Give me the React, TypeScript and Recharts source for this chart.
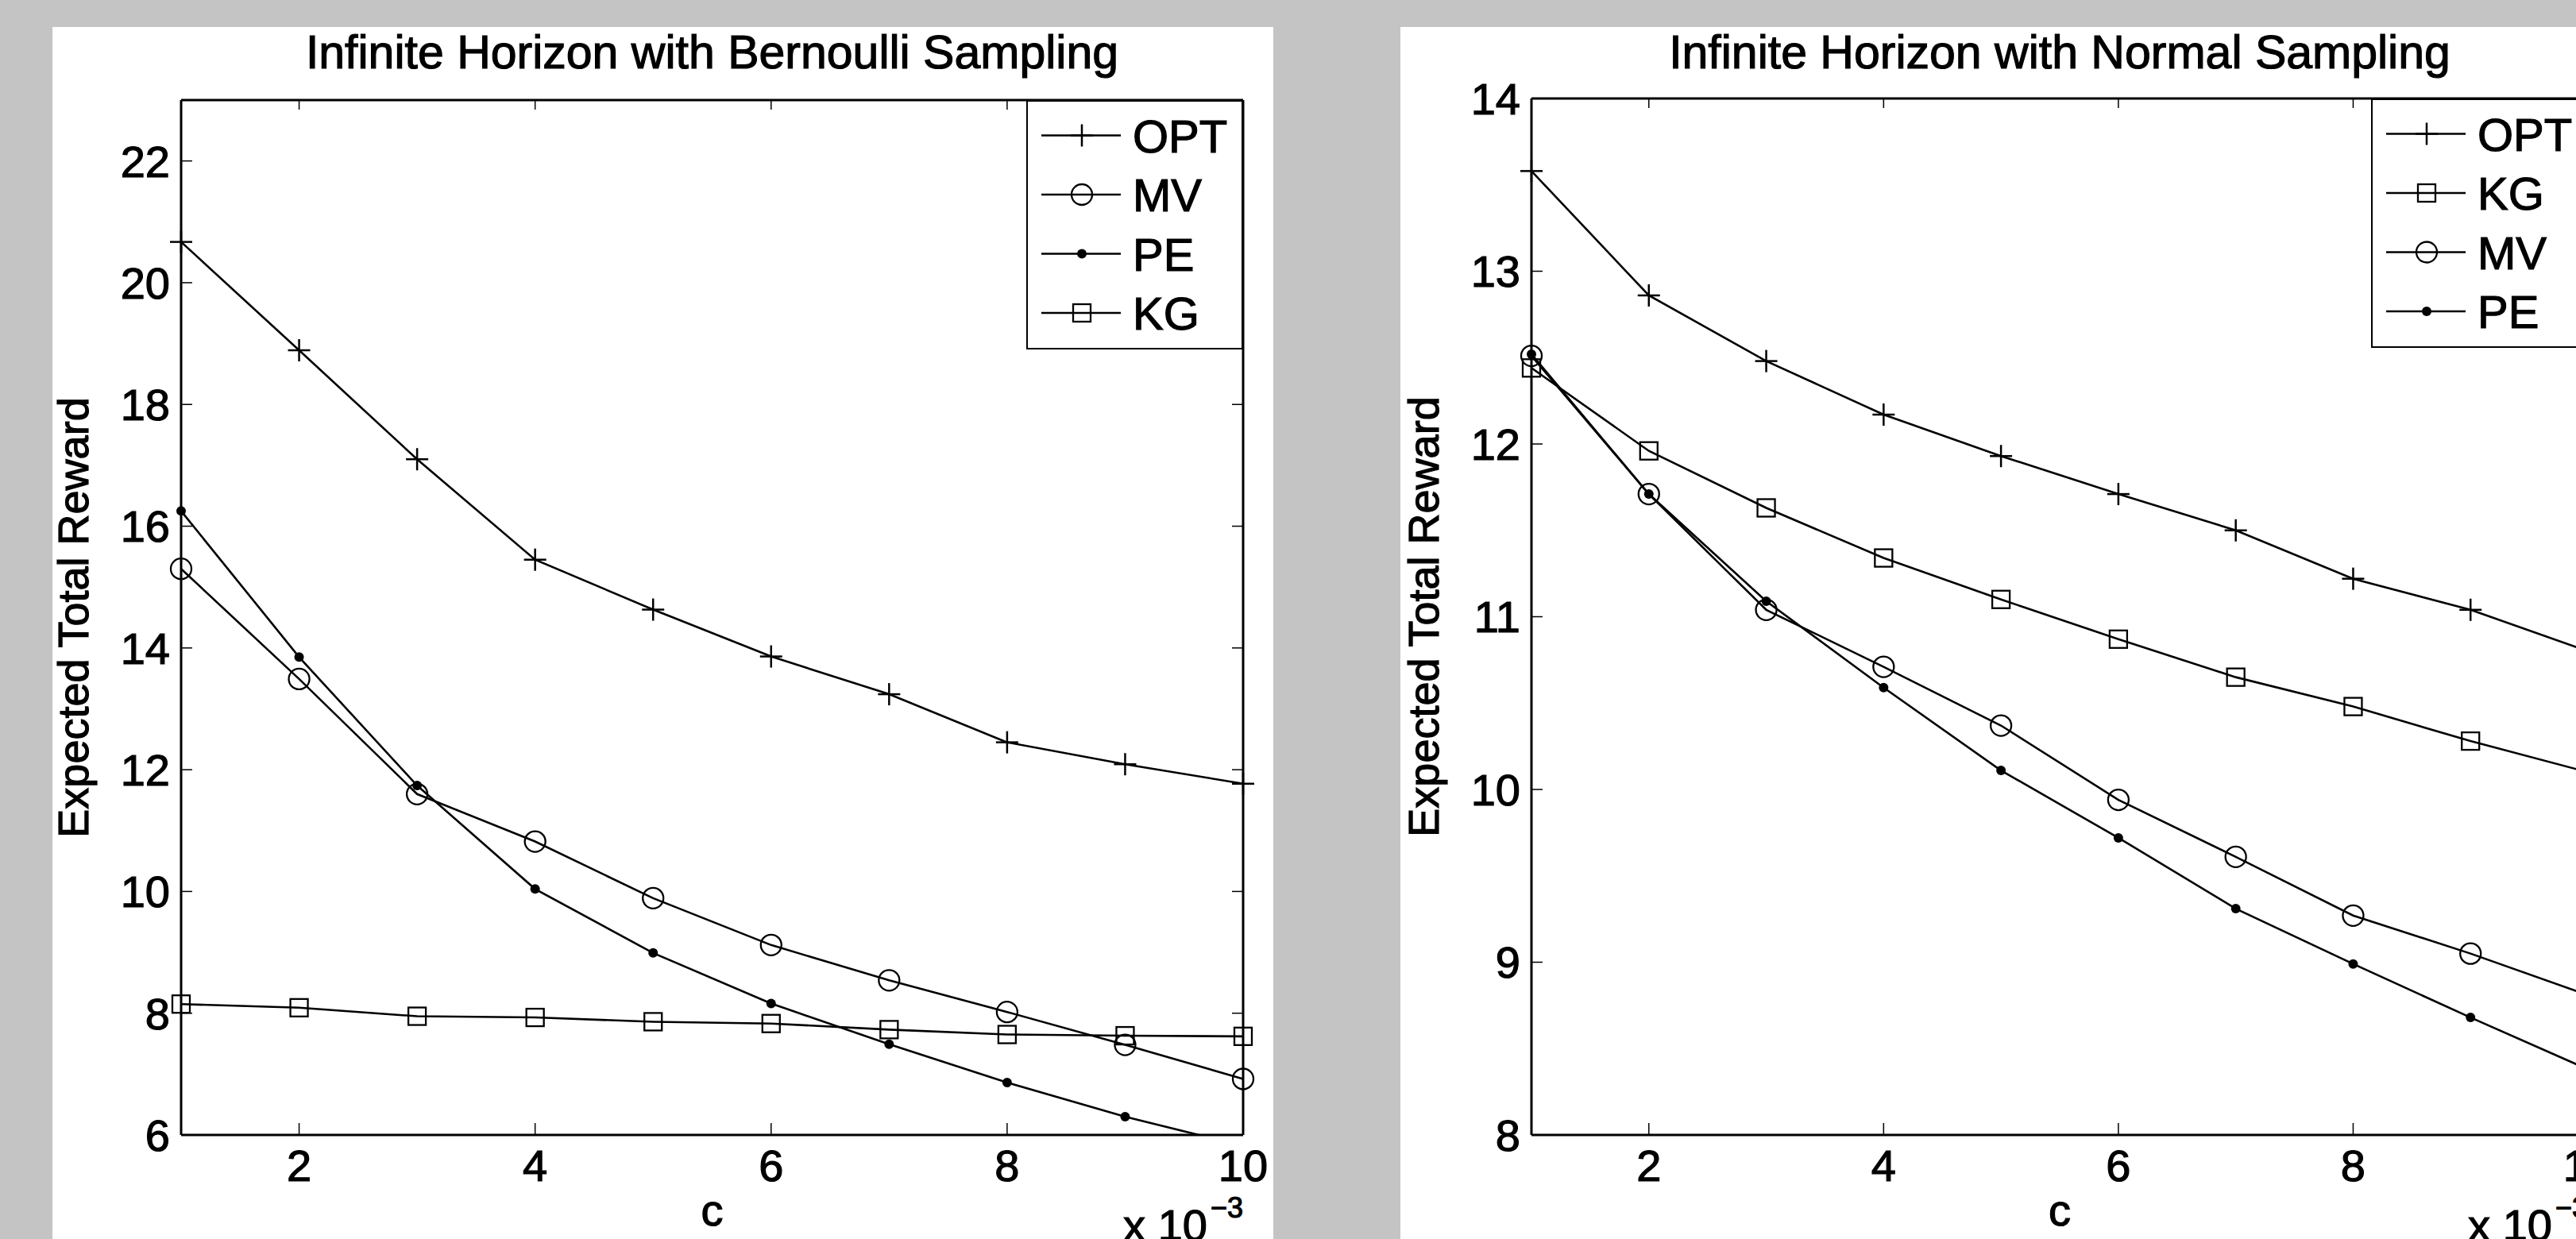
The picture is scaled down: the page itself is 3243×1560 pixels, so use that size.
import React from 'react';
import { LineChart, Line, XAxis, YAxis, Legend, Label } from 'recharts';

// ---------- data ----------
const cValues = [1, 2, 3, 4, 5, 6, 7, 8, 9, 10];
const xTicks = [2, 4, 6, 8, 10];
const xDomain: [number, number] = [1, 10];

// Left panel: Bernoulli sampling
const bernTitle = 'Infinite Horizon with Bernoulli Sampling';
const bernOPT = [20.67, 18.89, 17.1, 15.45, 14.63, 13.86, 13.24, 12.45, 12.09, 11.77];
const bernMV = [15.3, 13.49, 11.6, 10.82, 9.89, 9.12, 8.54, 8.02, 7.48, 6.92];
const bernPE = [16.25, 13.85, 11.74, 10.04, 8.99, 8.16, 7.49, 6.86, 6.3, 5.82];
const bernKG = [8.15, 8.09, 7.95, 7.93, 7.86, 7.83, 7.73, 7.65, 7.63, 7.62];
const bernYTicks = [6, 8, 10, 12, 14, 16, 18, 20, 22];
const bernYDomain: [number, number] = [6, 23];

// Right panel: Normal sampling
const normTitle = 'Infinite Horizon with Normal Sampling';
const normOPT = [13.58, 12.86, 12.48, 12.17, 11.93, 11.71, 11.5, 11.22, 11.04, 10.8];
const normKG = [12.44, 11.96, 11.63, 11.34, 11.1, 10.87, 10.65, 10.48, 10.28, 10.1];
const normMV = [12.51, 11.71, 11.04, 10.71, 10.37, 9.94, 9.61, 9.27, 9.05, 8.81];
const normPE = [12.52, 11.71, 11.09, 10.59, 10.11, 9.72, 9.31, 8.99, 8.68, 8.38];
const normYTicks = [8, 9, 10, 11, 12, 13, 14];
const normYDomain: [number, number] = [8, 14];

const xLabel = 'c';
const yLabel = 'Expected Total Reward';

// ---------- styling ----------
const FONT = '"Liberation Sans", Arial, Helvetica, sans-serif';
const INK = '#000';
const TEXT_STROKE = 1.2;
const CHART_W = 1700;
const CHART_H = 1560;
const MARK = '__mark';

type Kind = 'plus' | 'circle' | 'dot' | 'square';
type Series = { name: string; values: number[]; kind: Kind };

const bernSeries: Series[] = [
  { name: 'OPT', values: bernOPT, kind: 'plus' },
  { name: 'MV', values: bernMV, kind: 'circle' },
  { name: 'PE', values: bernPE, kind: 'dot' },
  { name: 'KG', values: bernKG, kind: 'square' },
];
const normSeries: Series[] = [
  { name: 'OPT', values: normOPT, kind: 'plus' },
  { name: 'KG', values: normKG, kind: 'square' },
  { name: 'MV', values: normMV, kind: 'circle' },
  { name: 'PE', values: normPE, kind: 'dot' },
];

function Marker({ kind, cx, cy }: { kind: Kind; cx: number; cy: number }) {
  if (kind === 'plus') {
    return (
      <g>
        <line x1={cx - 14} y1={cy} x2={cx + 14} y2={cy} stroke={INK} strokeWidth={2.5} />
        <line x1={cx} y1={cy - 14} x2={cx} y2={cy + 14} stroke={INK} strokeWidth={2.5} />
      </g>
    );
  }
  if (kind === 'circle') return <circle cx={cx} cy={cy} r={13} fill="none" stroke={INK} strokeWidth={2.3} />;
  if (kind === 'dot') return <circle cx={cx} cy={cy} r={6} fill={INK} stroke="none" />;
  return <rect x={cx - 11} y={cy - 11} width={22} height={22} fill="none" stroke={INK} strokeWidth={2.3} />;
}

const makeDot = (kind: Kind) => (props: any) => {
  const { cx, cy, index, value } = props;
  const key = `mk-${kind}-${index}`;
  if (value == null || typeof cx !== 'number' || typeof cy !== 'number' || !isFinite(cx) || !isFinite(cy)) {
    return <g key={key} />;
  }
  return (
    <g key={key}>
      <Marker kind={kind} cx={cx} cy={cy} />
    </g>
  );
};

const LEG_W = 273;
const LEG_H = 314;
const LEG_ROW0 = 44.5;
const LEG_STEP = 74.5;

function LegendBox({ series }: { series: Series[] }) {
  return (
    <svg width={LEG_W} height={LEG_H} style={{ display: 'block' }}>
      <rect x={1} y={1} width={LEG_W - 2} height={LEG_H - 2} fill="#fff" stroke={INK} strokeWidth={2} />
      {series.map((s, i) => {
        const cy = LEG_ROW0 + i * LEG_STEP;
        return (
          <g key={s.name}>
            <line x1={19} y1={cy} x2={119} y2={cy} stroke={INK} strokeWidth={2.4} />
            <Marker kind={s.kind} cx={70} cy={cy} />
            <text
              x={134}
              y={cy + 21}
              fontSize={58}
              fontFamily={FONT}
              fill={INK}
              stroke={INK}
              strokeWidth={TEXT_STROKE}
            >
              {s.name}
            </text>
          </g>
        );
      })}
    </svg>
  );
}

function ExponentLabel(props: any) {
  const vb = props.viewBox || { x: 0, y: 0, width: 0, height: 0 };
  const xEnd = vb.x + vb.width;
  const yBase = vb.y + 133;
  return (
    <text
      x={xEnd}
      y={yBase}
      textAnchor="end"
      fontSize={56}
      fontFamily={FONT}
      fill={INK}
      stroke={INK}
      strokeWidth={TEXT_STROKE}
    >
      <tspan>x 10</tspan>
      <tspan dx={4} dy={-29} fontSize={36}>
        −3
      </tspan>
    </text>
  );
}

type PanelProps = {
  left: number;
  title: string;
  series: Series[];
  yDomain: [number, number];
  yTicks: number[];
  marginTop: number;
  marginRight: number;
  titleOffset: number;
};

function Panel({ left, title, series, yDomain, yTicks, marginTop, marginRight, titleOffset }: PanelProps) {
  const rows = cValues.map((c, i) => {
    const row: Record<string, number | null> = { c };
    series.forEach((s) => {
      const v = s.values[i];
      row[s.name] = v;
      row[s.name + MARK] = v >= yDomain[0] && v <= yDomain[1] ? v : null;
    });
    return row;
  });
  const plotRight = CHART_W - marginRight - 1;
  const plotTop = marginTop + 1;
  const tickStyle = { fontSize: 56, fill: INK, fontFamily: FONT, stroke: INK, strokeWidth: TEXT_STROKE };
  const axisLine = { stroke: INK, strokeWidth: 3 };
  const tickLine = { stroke: INK, strokeWidth: 1.5 };

  return (
    <div style={{ position: 'absolute', left, top: 0 }}>
      <LineChart
        width={CHART_W}
        height={CHART_H}
        data={rows}
        margin={{ top: marginTop, right: marginRight, bottom: 0, left: 0 }}
      >
        <XAxis
          dataKey="c"
          type="number"
          domain={xDomain}
          ticks={xTicks}
          interval={0}
          height={131}
          tickSize={-15}
          tickMargin={33}
          tick={tickStyle}
          axisLine={axisLine}
          tickLine={tickLine}
        >
          <Label
            value={xLabel}
            position="insideTop"
            offset={74}
            fontSize={56}
            fill={INK}
            stroke={INK}
            strokeWidth={TEXT_STROKE}
            fontFamily={FONT}
          />
          <Label content={ExponentLabel} />
        </XAxis>
        <XAxis
          xAxisId="t"
          orientation="top"
          dataKey="c"
          type="number"
          domain={xDomain}
          ticks={xTicks}
          interval={0}
          height={1}
          tickSize={-12}
          tickFormatter={() => ''}
          axisLine={axisLine}
          tickLine={tickLine}
        >
          <Label
            value={title}
            position="top"
            offset={titleOffset}
            fontSize={59}
            fill={INK}
            stroke={INK}
            strokeWidth={TEXT_STROKE}
            fontFamily={FONT}
          />
        </XAxis>
        <YAxis
          type="number"
          domain={yDomain}
          ticks={yTicks}
          allowDataOverflow
          interval={0}
          width={228}
          tickSize={-14}
          tickMargin={28}
          tick={tickStyle}
          axisLine={axisLine}
          tickLine={tickLine}
        >
          <Label
            value={yLabel}
            angle={-90}
            position="inside"
            dx={-22.5}
            fontSize={54}
            fill={INK}
            stroke={INK}
            strokeWidth={TEXT_STROKE}
            fontFamily={FONT}
          />
        </YAxis>
        <YAxis
          yAxisId="r"
          orientation="right"
          type="number"
          domain={yDomain}
          ticks={yTicks}
          interval={0}
          width={1}
          tickSize={-14}
          tickFormatter={() => ''}
          axisLine={axisLine}
          tickLine={tickLine}
        />
        {series.map((s) => (
          <Line
            key={s.name}
            dataKey={s.name}
            stroke={INK}
            strokeWidth={2.6}
            dot={false}
            activeDot={false}
            isAnimationActive={false}
            legendType="none"
          />
        ))}
        {series.map((s) => (
          <Line
            key={s.name + MARK}
            xAxisId="t"
            yAxisId="r"
            dataKey={s.name + MARK}
            stroke="none"
            dot={makeDot(s.kind)}
            activeDot={false}
            isAnimationActive={false}
            legendType="none"
          />
        ))}
        <Legend
          layout="horizontal"
          verticalAlign="middle"
          align="center"
          wrapperStyle={{ left: plotRight - LEG_W, top: plotTop, width: LEG_W, height: LEG_H }}
          content={() => <LegendBox series={series} />}
        />
      </LineChart>
    </div>
  );
}

export default function App() {
  return (
    <div
      style={{
        position: 'fixed',
        left: 0,
        top: 0,
        width: 3243,
        height: 1560,
        overflow: 'hidden',
        background: '#c3c4c3',
        fontFamily: FONT,
      }}
    >
      <div style={{ position: 'absolute', left: 66, top: 34, width: 1537, height: 1526, background: '#fff' }} />
      <div style={{ position: 'absolute', left: 1763, top: 34, width: 1480, height: 1526, background: '#fff' }} />
      <Panel
        left={0}
        title={bernTitle}
        series={bernSeries}
        yDomain={bernYDomain}
        yTicks={bernYTicks}
        marginTop={125}
        marginRight={134}
        titleOffset={39}
      />
      <Panel
        left={1700}
        title={normTitle}
        series={normSeries}
        yDomain={normYDomain}
        yTicks={normYTicks}
        marginTop={123}
        marginRight={141}
        titleOffset={37}
      />
    </div>
  );
}
